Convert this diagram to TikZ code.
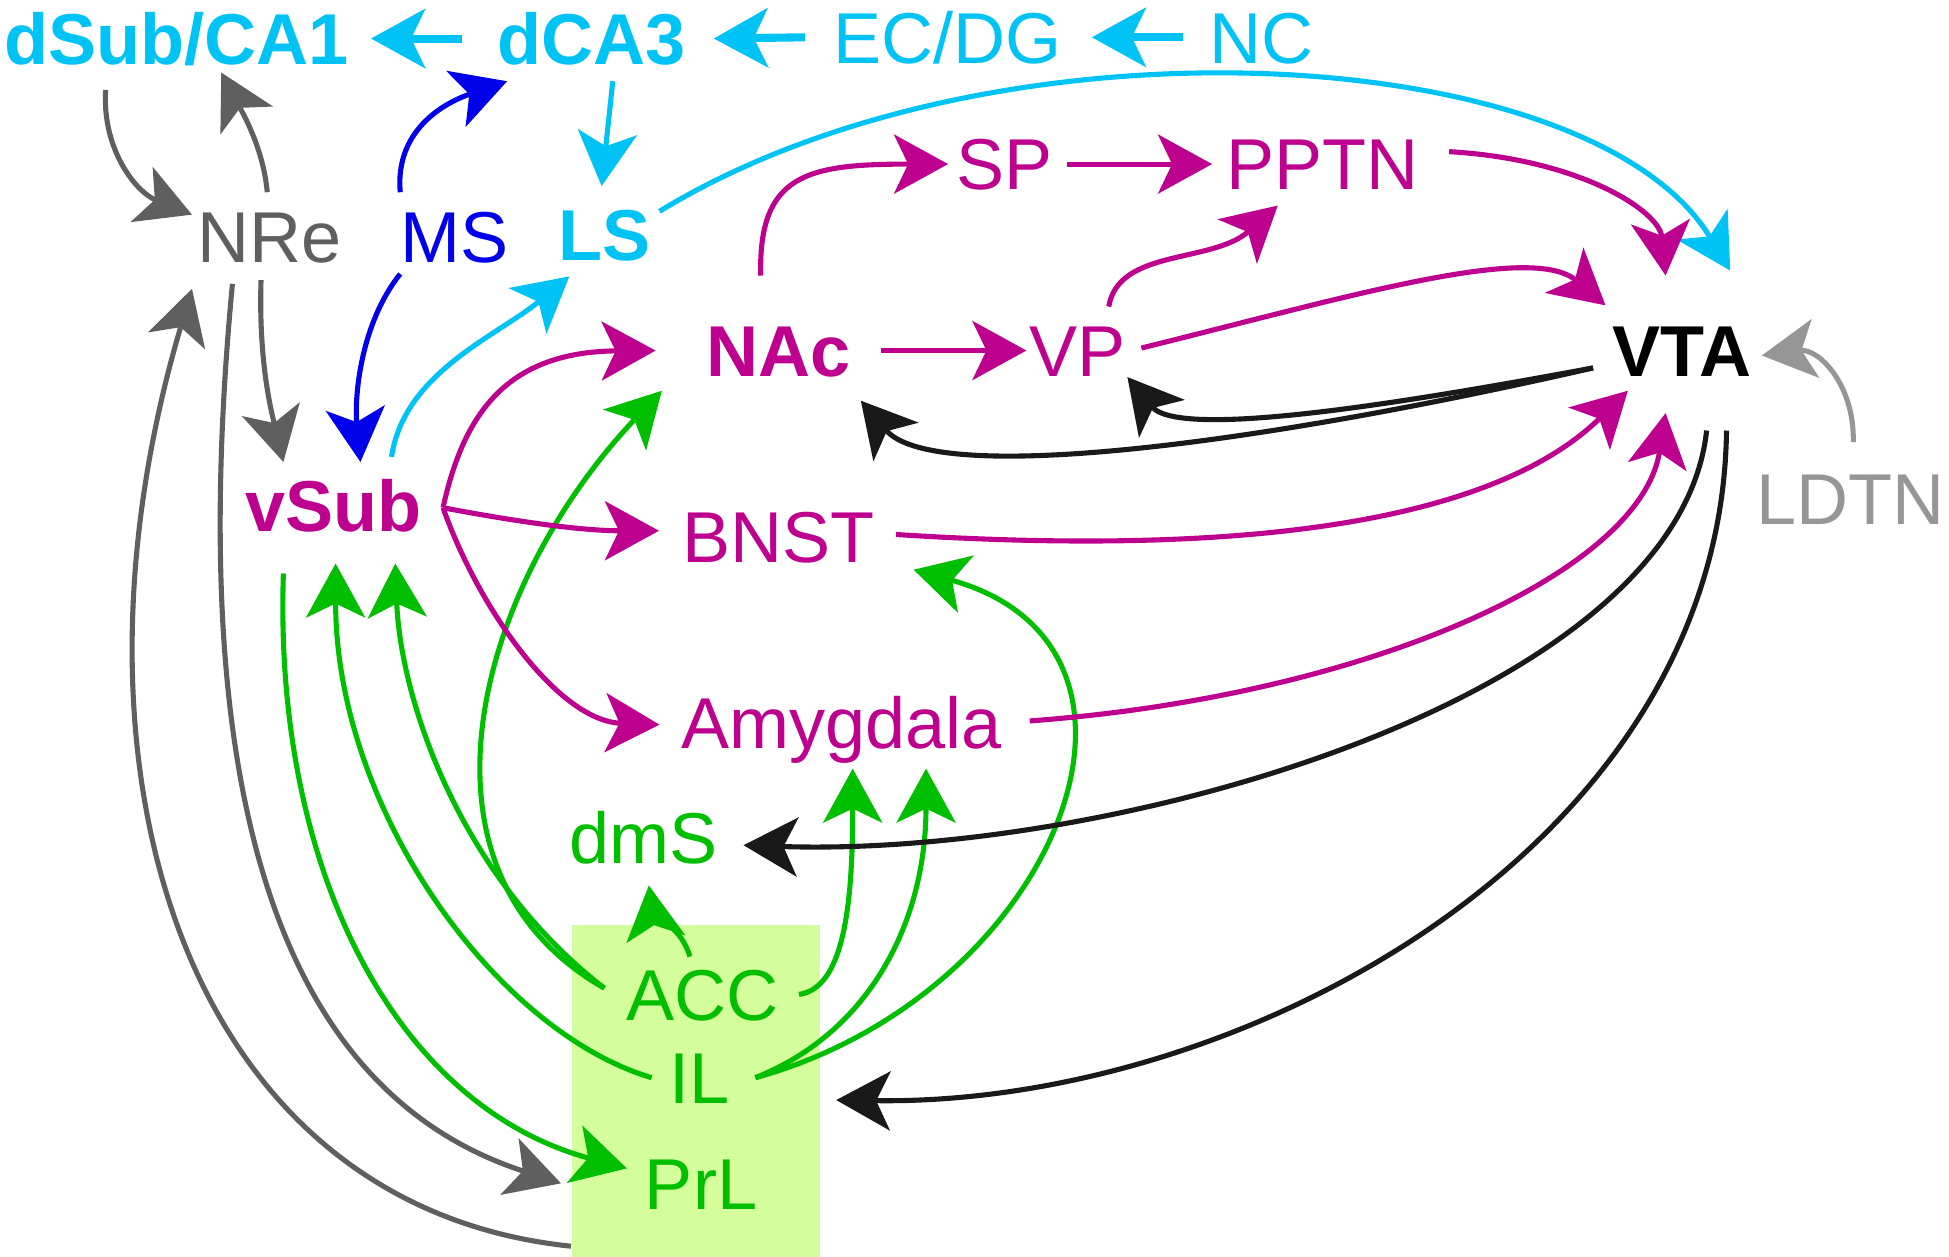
\documentclass[tikz,border=0pt]{standalone}
\usepackage{fontspec}
\setmainfont{Liberation Sans}
\usepackage{tikz}
\usetikzlibrary{arrows.meta}

\definecolor{hippo}{RGB}{0,195,245}
\definecolor{septum}{RGB}{0,0,235}
\definecolor{reward}{RGB}{190,0,143}
\definecolor{cortex}{RGB}{0,190,0}
\definecolor{thal}{RGB}{95,95,95}
\definecolor{brainstem}{RGB}{150,150,150}
\definecolor{dopa}{RGB}{25,25,25}
\definecolor{pfcfill}{RGB}{212,253,155}

\tikzset{
	nucleus/.style={inner sep=0pt, text height=14.7pt, text depth=0pt, font=\fontsize{20.5}{24}\selectfont},
	bold nucleus/.style={nucleus, font=\fontsize{20.5}{24}\selectfont\bfseries},
	proj/.style={->, line width=1.45pt},
	mainline/.style={->, line width=2.3pt},
}

\begin{document}
\begin{tikzpicture}[x=0.1243mm, y=0.1243mm, >/.tip={Stealth[length=5.4mm, width=5.9mm, inset=1.4mm]}]
	\useasboundingbox (0,0) rectangle (1568,-1011);
	\draw (560,-877.5) node (pfc) [fill=pfcfill, inner sep=0pt, minimum width=24.86mm, minimum height=33.19mm] {};

	\draw (142,-31) node (dsub) [bold nucleus, text=hippo] {dSub/CA1};
	\draw (476,-31) node (dca3) [bold nucleus, text=hippo] {dCA3};
	\draw (762,-30) node (ecdg) [nucleus, text=hippo] {EC/DG};
	\draw (1015,-30) node (nc) [nucleus, text=hippo] {NC};
	\draw (217,-190) node (nre) [nucleus, text=thal] {NRe};
	\draw (366,-190) node (ms) [nucleus, text=septum] {MS};
	\draw (486,-189) node (ls) [bold nucleus, text=hippo] {LS};
	\draw (808,-132) node (sp) [nucleus, text=reward] {SP};
	\draw (1064,-132) node (pptn) [nucleus, text=reward] {PPTN};
	\draw (626,-282) node (nac) [bold nucleus, text=reward] {NAc};
	\draw (867,-282) node (vp) [nucleus, text=reward] {VP};
	\draw (1353,-282) node (vta) [bold nucleus, text=black] {VTA};
	\draw (1489,-401) node (ldtn) [nucleus, text=brainstem] {LDTN};
	\draw (268,-407) node (vsub) [bold nucleus, text=reward] {vSub};
	\draw (626,-432) node (bnst) [nucleus, text=reward] {BNST};
	\draw (677,-581) node (amy) [nucleus, text=reward] {Amygdala};
	\draw (518,-674) node (dms) [nucleus, text=cortex] {dmS};
	\draw (565,-800) node (acc) [nucleus, text=cortex] {ACC};
	\draw (563,-867) node (il) [nucleus, text=cortex] {IL};
	\draw (564,-952) node (prl) [nucleus, text=cortex] {PrL};

	\draw[mainline, hippo] ([shift={(-28,0)}]dca3.west) -- ([shift={(17.5,0)}]dsub.east);
	\draw[mainline, hippo] ([shift={(-22,0)}]ecdg.west) -- ([shift={(22,0)}]dca3.east);
	\draw[mainline, hippo] ([shift={(-21,0)}]nc.west) -- ([shift={(24,0)}]ecdg.east);
	\draw[proj, hippo] ([shift={(17,-13)}]dca3.south) -- ([shift={(-2,18)}]ls.north);
	\draw[proj, hippo] ([shift={(7,19)}]ls.east) .. controls +(270,165) and +(-112,185) .. ([shift={(39,43)}]vta.north);
	\draw[proj, hippo] ([shift={(47,18)}]vsub.north) .. controls +(10,68) and +(-58,-48) .. ([shift={(-28,-12)}]ls.south);

	\draw[proj, septum] ([shift={(-44,14)}]ms.north) .. controls +(-4,45) and +(-58,-20) .. ([shift={(-68,-13)}]dca3.south);
	\draw[proj, septum] ([shift={(-44,-9)}]ms.south) .. controls +(-32,-40) and +(-5,52) .. ([shift={(22,14)}]vsub.north);

	\draw[proj, thal] ([shift={(-57,-20)}]dsub.south) .. controls +(-3,-48) and +(-45,18) .. ([shift={(-4,-4)}]nre.north west);
	\draw[proj, thal] ([shift={(-2,14)}]nre.north) .. controls +(-3,35) and +(17,-32) .. ([shift={(36,-6)}]dsub.south);
	\draw[proj, thal] ([shift={(-7,-14)}]nre.south) .. controls +(-2,-65) and +(-10,42) .. ([shift={(-40,14)}]vsub.north);
	\draw[proj, thal] ([shift={(-30,-17)}]nre.south) .. controls +(-40,-422) and +(-222,72) .. ([shift={(-67,0)}]prl.west);
	\draw[proj, thal] ([shift={(0,9)}]pfc.south west) .. controls +(-310,32) and +(-115,-388) .. ([shift={(-4,-21)}]nre.south west);

	\draw[proj, cortex] ([shift={(-10,9)}]acc.north) .. controls +(-7,25) and +(3,-23) .. ([shift={(4,-17)}]dms.south);
	\draw[proj, cortex] ([shift={(16,0)}]acc.east) .. controls +(38,5) and +(0,-102) .. ([shift={(9,-16)}]amy.south);
	\draw[proj, cortex] ([shift={(20,0)}]il.east) .. controls +(93,37) and +(0,-122) .. ([shift={(68,-16)}]amy.south);
	\draw[proj, cortex] ([shift={(20,0)}]il.east) .. controls +(243,67) and +(225,-62) .. ([shift={(109,-5)}]bnst.south);
	\draw[proj, cortex] ([shift={(-17,5)}]acc.west) .. controls +(-117,90) and +(4,-108) .. ([shift={(50,-25)}]vsub.south);
	\draw[proj, cortex] ([shift={(-17,5)}]acc.west) .. controls +(-167,95) and +(-148,-156) .. ([shift={(-35,-11)}]nac.south west);
	\draw[proj, cortex] ([shift={(-14,0)}]il.west) .. controls +(-125,37) and +(0,-198) .. ([shift={(2,-25)}]vsub.south);
	\draw[proj, cortex] ([shift={(-40,-33)}]vsub.south) .. controls +(-8,-240) and +(-185,50) .. ([shift={(-14,12)}]prl.west);

	\draw[proj, reward] ([shift={(-14,39)}]nac.north) .. controls +(-2,82) and +(-113,0) .. ([shift={(-6,0)}]sp.west);
	\draw[proj, reward] ([shift={(11,0)}]sp.east) -- ([shift={(-11,0)}]pptn.west);
	\draw[proj, reward] ([shift={(24,10)}]pptn.east) .. controls +(105,-6) and +(-5,52) .. ([shift={(-13,39)}]vta.north);
	\draw[proj, reward] ([shift={(24,0)}]nac.east) -- ([shift={(-2,0)}]vp.west);
	\draw[proj, reward] ([shift={(25,14)}]vp.north) .. controls +(8,47) and +(-53,-47) .. ([shift={(-36,-12)}]pptn.south);
	\draw[proj, reward] ([shift={(12,2)}]vp.east) .. controls +(162,40) and +(-60,51) .. ([shift={(-5,15)}]vta.north west);
	\draw[proj, reward] ([shift={(17,-1.5)}]vsub.east) .. controls +(17,78) and +(-118,-1) .. ([shift={(-40,0)}]nac.west);
	\draw[proj, reward] ([shift={(17,-1.5)}]vsub.east) .. controls +(64,-12) and +(-61,0) .. ([shift={(-18,5)}]bnst.west);
	\draw[proj, reward] ([shift={(17,-1.5)}]vsub.east) .. controls +(29,-82) and +(-81,3) .. ([shift={(-17,-2)}]amy.west);
	\draw[proj, reward] ([shift={(17,2)}]bnst.east) .. controls +(280,-18) and +(-108,-106) .. ([shift={(13,-11)}]vta.south west);
	\draw[proj, reward] ([shift={(22,1)}]amy.east) .. controls +(272,20) and +(-20,-128) .. ([shift={(-13,-29)}]vta.south);

	\draw[proj, dopa] ([shift={(-15,-14)}]vta.west) .. controls +(-130,-24) and +(43,-52) .. ([shift={(40,0)}]vp.south);
	\draw[proj, dopa] ([shift={(-15,-14)}]vta.west) .. controls +(-280,-64) and +(58,-68) .. ([shift={(8,-19)}]nac.south east);
	\draw[proj, dopa] ([shift={(20,-43)}]vta.south) .. controls +(-23,-214) and +(302,-10) .. ([shift={(20,-6)}]dms.east);
	\draw[proj, dopa] ([shift={(36,-43)}]vta.south) .. controls +(-4,-334) and +(328,-5) .. ([shift={(85,-18)}]il.east);

	\draw[proj, brainstem] ([shift={(2,24)}]ldtn.north) .. controls +(1,46) and +(46,6) .. ([shift={(8,-4)}]vta.east);
\end{tikzpicture}
\end{document}
